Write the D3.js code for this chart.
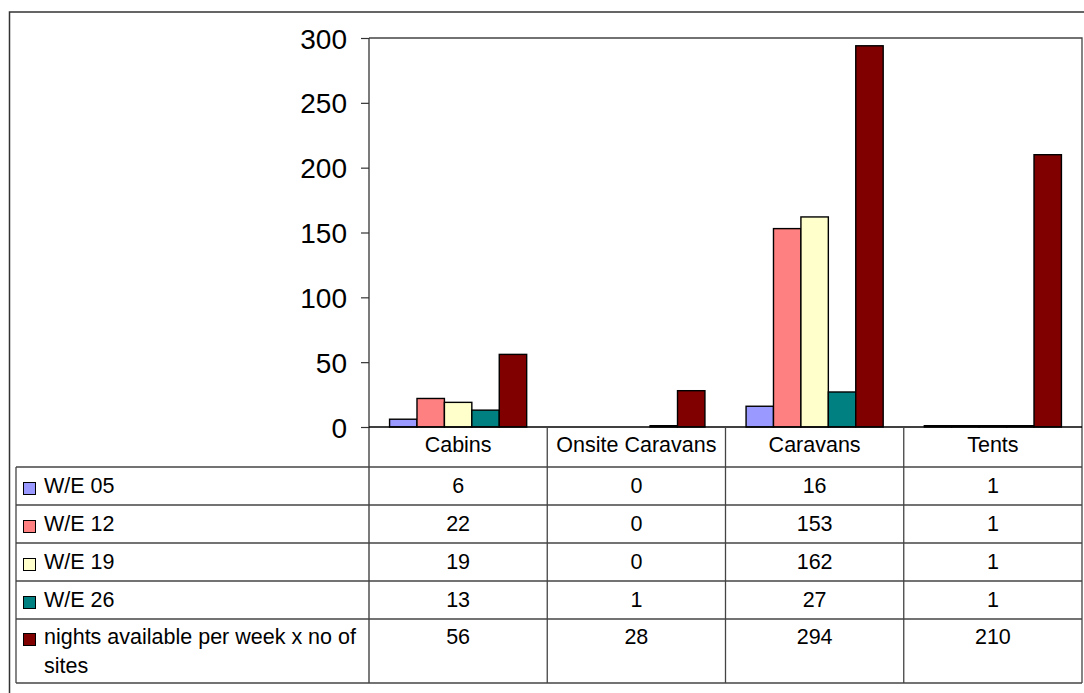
<!DOCTYPE html>
<html><head><meta charset="utf-8">
<script src="https://cdn.jsdelivr.net/npm/d3@7"></script>
<style>body{margin:0;background:#fff}svg{display:block}text{font-family:"Liberation Sans",Arial,sans-serif;fill:#000}</style>
</head><body>
<svg id="c" width="1084" height="693"></svg>
<script>
const categories = ["Cabins", "Onsite Caravans", "Caravans", "Tents"];
const seriesNames = ["W/E 05", "W/E 12", "W/E 19", "W/E 26", "nights available per week x no of sites"];
const we05 = [6, 0, 16, 1];
const we12 = [22, 0, 153, 1];
const we19 = [19, 0, 162, 1];
const we26 = [13, 1, 27, 1];
const nights = [56, 28, 294, 210];
const yTicks = [0, 50, 100, 150, 200, 250, 300];
const colors = ["#9999FF", "#FF8080", "#FFFFCC", "#008080", "#800000"];

(function () {
const series = [we05, we12, we19, we26, nights];
const svg = d3.select("#c");
const fs = 21.5;

const plotLeft = 369, plotRight = 1082, plotTop = 38, zeroY = 427;
const tableLeft = 16, tableBottom = 683;
const headerBottom = 467;
const rowLines = [467, 505, 543, 581, 619, 683];

const x0 = d3.scaleBand().domain(categories).range([plotLeft, plotRight]).padding(0);
const x1 = d3.scaleBand().domain(d3.range(series.length)).range([0, x0.bandwidth()]).paddingInner(0).paddingOuter(0.75);
const y = d3.scaleLinear().domain([0, 300]).range([zeroY, plotTop]);

// outer frame
svg.append("rect").attr("x", 9.5).attr("y", 12).attr("width", 1200).attr("height", 800)
  .attr("fill", "none").attr("stroke", "#333").attr("stroke-width", 1.5);

// plot area border (top & right)
svg.append("path").attr("d", `M${plotLeft},${plotTop}H${plotRight}V${tableBottom}`)
  .attr("fill", "none").attr("stroke", "#444").attr("stroke-width", 1.3);

// bars
const g = svg.append("g");
categories.forEach((c, ci) => {
  series.forEach((s, si) => {
    const v = s[ci];
    if (v <= 0) return;
    g.append("rect")
      .attr("x", x0(c) + x1(si))
      .attr("y", y(v))
      .attr("width", x1.bandwidth())
      .attr("height", zeroY - y(v))
      .attr("fill", colors[si])
      .attr("stroke", "#000").attr("stroke-width", 1.4);
  });
});

// y axis
const yAxis = d3.axisLeft(y).tickValues(yTicks).tickSize(8).tickPadding(14);
const ga = svg.append("g").attr("transform", `translate(${plotLeft},0)`).call(yAxis);
ga.select(".domain").remove();
ga.selectAll(".tick line").attr("stroke", "#333").attr("stroke-width", 1.2);
ga.selectAll(".tick text").attr("font-size", 28).attr("font-family", "Liberation Sans, Arial, sans-serif").attr("fill", "#000").attr("dy", "0.36em");
svg.append("line").attr("x1", plotLeft).attr("x2", plotLeft).attr("y1", plotTop).attr("y2", tableBottom)
  .attr("stroke", "#333").attr("stroke-width", 1.3);

// table lines
const lines = svg.append("g").attr("stroke", "#444").attr("stroke-width", 1.3);
lines.append("line").attr("x1", plotLeft).attr("x2", plotRight).attr("y1", zeroY).attr("y2", zeroY).attr("stroke", "#000");
rowLines.forEach(ry => lines.append("line").attr("x1", tableLeft).attr("x2", plotRight).attr("y1", ry).attr("y2", ry));
lines.append("line").attr("x1", tableLeft).attr("x2", tableLeft).attr("y1", headerBottom).attr("y2", tableBottom);
categories.forEach((c, i) => {
  if (i === 0) return;
  lines.append("line").attr("x1", x0(c)).attr("x2", x0(c)).attr("y1", zeroY).attr("y2", tableBottom);
});

// header labels
categories.forEach(c => {
  svg.append("text").attr("x", x0(c) + x0.bandwidth() / 2).attr("y", 452)
    .attr("text-anchor", "middle").attr("font-size", fs).text(c);
});

// rows
const rowBaselines = [493, 531, 569, 607, 644];
series.forEach((s, si) => {
  const by = rowBaselines[si];
  svg.append("rect").attr("x", 23.5).attr("y", by - 10.5).attr("width", 12).attr("height", 12)
    .attr("fill", colors[si]).attr("stroke", "#000").attr("stroke-width", 1);
  const t = svg.append("text").attr("x", 44).attr("y", by).attr("font-size", fs);
  if (si === series.length - 1) {
    t.append("tspan").attr("x", 44).text("nights available per week x no of");
    t.append("tspan").attr("x", 44).attr("dy", 29).text("sites");
  } else {
    t.text(seriesNames[si]);
  }
  categories.forEach((c, ci) => {
    svg.append("text").attr("x", x0(c) + x0.bandwidth() / 2).attr("y", by)
      .attr("text-anchor", "middle").attr("font-size", fs).text(s[ci]);
  });
});
})();
</script>
</body></html>
